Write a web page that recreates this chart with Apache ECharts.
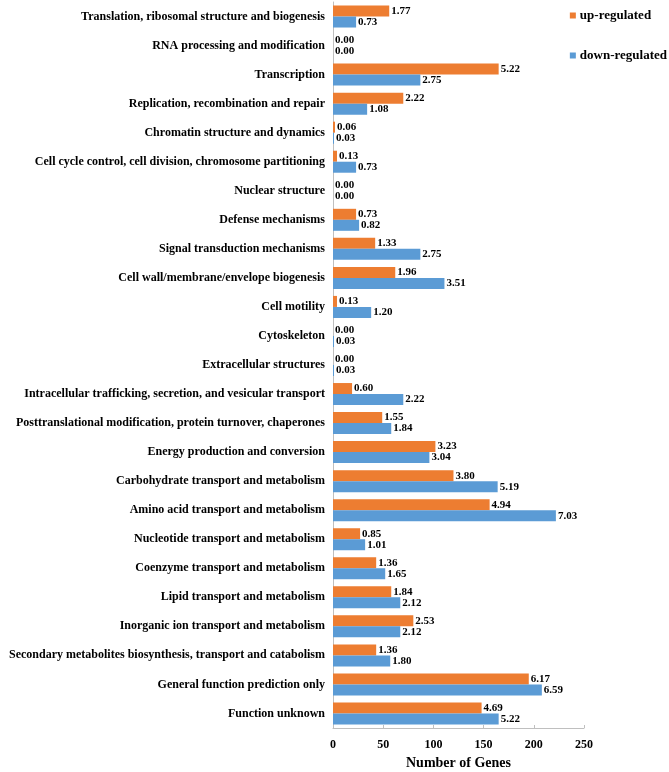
<!DOCTYPE html>
<html><head><meta charset="utf-8">
<script src="https://cdn.jsdelivr.net/npm/echarts@6/dist/echarts.min.js"></script>
<style>html,body{margin:0;padding:0;background:#fff}#c{width:669px;height:772px}</style>
</head><body><div id="c"></div>
<script>
const categories = [
"Translation, ribosomal structure and biogenesis",
"RNA processing and modification",
"Transcription",
"Replication, recombination and repair",
"Chromatin structure and dynamics",
"Cell cycle control, cell division, chromosome partitioning",
"Nuclear structure",
"Defense mechanisms",
"Signal transduction mechanisms",
"Cell wall/membrane/envelope biogenesis",
"Cell motility",
"Cytoskeleton",
"Extracellular structures",
"Intracellular trafficking, secretion, and vesicular transport",
"Posttranslational modification, protein turnover, chaperones",
"Energy production and conversion",
"Carbohydrate transport and metabolism",
"Amino acid transport and metabolism",
"Nucleotide transport and metabolism",
"Coenzyme transport and metabolism",
"Lipid transport and metabolism",
"Inorganic ion transport and metabolism",
"Secondary metabolites biosynthesis, transport and catabolism",
"General function prediction only",
"Function unknown"
];
const upGenes =   [56,0,165,70,2,4,0,23,42,62,4,0,0,19,49,102,120,156,27,43,58,80,43,195,148];
const downGenes = [23,0,87,34,1,23,0,26,87,111,38,1,1,70,58,96,164,222,32,52,67,67,57,208,165];
const upPct =   ["1.77","0.00","5.22","2.22","0.06","0.13","0.00","0.73","1.33","1.96","0.13","0.00","0.00","0.60","1.55","3.23","3.80","4.94","0.85","1.36","1.84","2.53","1.36","6.17","4.69"];
const downPct = ["0.73","0.00","2.75","1.08","0.03","0.73","0.00","0.82","2.75","3.51","1.20","0.03","0.03","2.22","1.84","3.04","5.19","7.03","1.01","1.65","2.12","2.12","1.80","6.59","5.22"];
const xTicks = [0,50,100,150,200,250];

const font = "Liberation Serif";
const chart = echarts.init(document.getElementById('c'), null, {renderer:'canvas'});
chart.setOption({
  animation:false,
  textStyle:{fontFamily:font},
  legend:{
    orient:'vertical', right:2, top:9, padding:0, itemWidth:6, itemHeight:6, itemGap:27,
    icon:'rect',
    textStyle:{fontFamily:font, fontWeight:'bold', fontSize:13, color:'#000', padding:[0,0,0,-1]},
    data:['up-regulated','down-regulated']
  },
  grid:{left:333, right:85, top:2, bottom:44, containLabel:false, outerBoundsMode:'none'},
  xAxis:{
    type:'value', min:0, max:250, interval:50,
    name:'Number of Genes', nameLocation:'middle', nameGap:28,
    nameTextStyle:{fontFamily:font, fontWeight:'bold', fontSize:14, color:'#000'},
    axisLine:{show:true, lineStyle:{color:'#bfbfbf'}},
    axisTick:{show:true, inside:true, length:3, lineStyle:{color:'#bfbfbf'}},
    axisLabel:{fontFamily:font, fontWeight:'bold', fontSize:12, color:'#000', margin:11,
      formatter:v=>xTicks.includes(v)?String(v):''},
    splitLine:{show:false}
  },
  yAxis:{
    type:'category', data:categories, inverse:true,
    axisLine:{show:true, lineStyle:{color:'#bfbfbf'}},
    axisTick:{show:false},
    axisLabel:{fontFamily:font, fontWeight:'bold', fontSize:12, color:'#000', margin:8}
  },
  series:[
    {name:'up-regulated', type:'bar', data:upGenes, barWidth:11, barGap:'0%',
     itemStyle:{color:'#ED7D31'},
     label:{show:true, position:'right', distance:2, fontFamily:font, fontWeight:'bold', fontSize:11, color:'#000',
       formatter:p=>upPct[p.dataIndex]}},
    {name:'down-regulated', type:'bar', data:downGenes, barWidth:11, barGap:'0%',
     itemStyle:{color:'#5B9BD5'},
     label:{show:true, position:'right', distance:2, fontFamily:font, fontWeight:'bold', fontSize:11, color:'#000',
       formatter:p=>downPct[p.dataIndex]}}
  ]
});
</script></body></html>
